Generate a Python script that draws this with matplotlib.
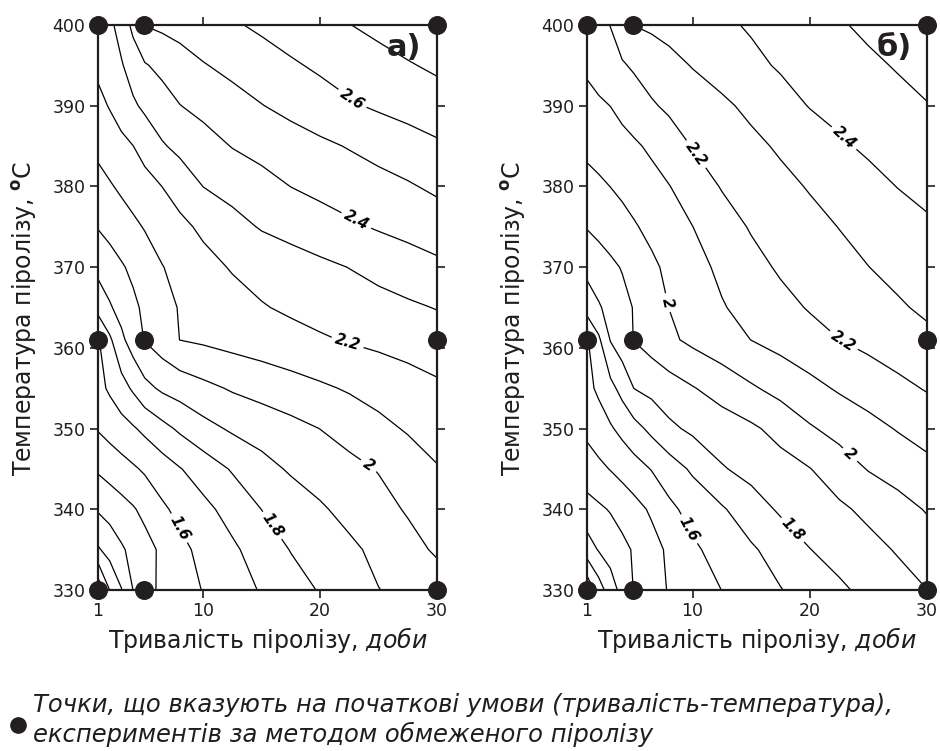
import numpy as np
import matplotlib
matplotlib.use('Agg')
import matplotlib.pyplot as plt
from matplotlib.lines import Line2D

plt.rcParams['font.family'] = ['DejaVu Sans']
plt.rcParams['mathtext.fontset'] = 'dejavusans'

# grid of the interpolated surfaces (days x temperature)
duration_days = [1, 2, 3, 4, 5, 6.5, 8, 10, 12.5, 15, 17.5, 20, 22.5, 25, 27.5, 30]
temperature_c = [330, 335, 340, 345, 350, 355, 361, 365, 370, 375, 380, 385, 390, 395, 400]

# panel а) values, one row per temperature (bottom -> top)
surface_a = [
    [1.02, 1.201, 1.295, 1.401, 1.463, 1.521, 1.557, 1.604, 1.656, 1.708, 1.758, 1.807, 1.853, 1.898, 1.925, 1.952],
    [1.288, 1.338, 1.387, 1.427, 1.464, 1.519, 1.573, 1.628, 1.684, 1.744, 1.804, 1.843, 1.881, 1.923, 1.968, 2.013],
    [1.41, 1.437, 1.464, 1.491, 1.525, 1.584, 1.626, 1.674, 1.736, 1.801, 1.844, 1.888, 1.929, 1.968, 2.009, 2.053],
    [1.513, 1.538, 1.562, 1.587, 1.613, 1.654, 1.695, 1.746, 1.809, 1.866, 1.912, 1.943, 1.973, 2.005, 2.05, 2.094],
    [1.607, 1.635, 1.663, 1.690, 1.722, 1.771, 1.816, 1.868, 1.914, 1.943, 1.971, 2.001, 2.037, 2.075, 2.109, 2.139],
    [1.67, 1.715, 1.763, 1.814, 1.872, 1.917, 1.942, 1.975, 2.010, 2.035, 2.060, 2.085, 2.110, 2.135, 2.159, 2.184],
    [1.69, 1.783, 1.878, 1.948, 2.005, 2.052, 2.101, 2.115, 2.134, 2.152, 2.171, 2.190, 2.207, 2.222, 2.238, 2.254],
    [1.833, 1.889, 1.936, 1.980, 2.018, 2.068, 2.106, 2.131, 2.162, 2.194, 2.214, 2.232, 2.250, 2.268, 2.285, 2.304],
    [1.928, 1.959, 1.990, 2.020, 2.051, 2.097, 2.128, 2.168, 2.208, 2.232, 2.255, 2.279, 2.302, 2.328, 2.354, 2.380],
    [2.005, 2.030, 2.056, 2.081, 2.106, 2.141, 2.176, 2.219, 2.267, 2.308, 2.334, 2.360, 2.385, 2.409, 2.430, 2.450],
    [2.067, 2.091, 2.116, 2.140, 2.164, 2.201, 2.243, 2.301, 2.334, 2.368, 2.401, 2.424, 2.446, 2.468, 2.490, 2.518],
    [2.123, 2.149, 2.174, 2.199, 2.237, 2.291, 2.324, 2.361, 2.404, 2.430, 2.455, 2.481, 2.506, 2.533, 2.559, 2.586],
    [2.174, 2.206, 2.246, 2.286, 2.318, 2.358, 2.398, 2.427, 2.462, 2.497, 2.528, 2.559, 2.589, 2.613, 2.634, 2.654],
    [2.22, 2.256, 2.292, 2.341, 2.392, 2.426, 2.455, 2.494, 2.527, 2.557, 2.588, 2.615, 2.641, 2.666, 2.692, 2.717],
    [2.25, 2.28, 2.336, 2.426, 2.502, 2.519, 2.537, 2.56, 2.589, 2.617, 2.644, 2.671, 2.698, 2.725, 2.752, 2.778],
]

# panel б) values
surface_b = [
    [1.02, 1.152, 1.253, 1.333, 1.404, 1.458, 1.507, 1.548, 1.601, 1.648, 1.696, 1.740, 1.784, 1.824, 1.862, 1.899],
    [1.251, 1.307, 1.341, 1.375, 1.409, 1.464, 1.517, 1.583, 1.638, 1.687, 1.741, 1.798, 1.834, 1.870, 1.908, 1.953],
    [1.362, 1.384, 1.407, 1.436, 1.466, 1.514, 1.578, 1.633, 1.689, 1.756, 1.813, 1.848, 1.883, 1.922, 1.964, 2.007],
    [1.453, 1.478, 1.504, 1.532, 1.561, 1.604, 1.652, 1.715, 1.792, 1.830, 1.864, 1.897, 1.952, 2.005, 2.039, 2.072],
    [1.523, 1.556, 1.589, 1.627, 1.666, 1.724, 1.780, 1.819, 1.851, 1.884, 1.931, 1.990, 2.031, 2.069, 2.106, 2.140],
    [1.575, 1.617, 1.672, 1.732, 1.801, 1.828, 1.857, 1.894, 1.941, 1.988, 2.031, 2.072, 2.111, 2.143, 2.176, 2.207],
    [1.59, 1.683, 1.805, 1.855, 1.903, 1.942, 1.982, 2.021, 2.060, 2.101, 2.133, 2.166, 2.199, 2.226, 2.253, 2.279],
    [1.738, 1.790, 1.831, 1.868, 1.905, 1.953, 2.001, 2.042, 2.093, 2.133, 2.172, 2.207, 2.234, 2.262, 2.289, 2.316],
    [1.830, 1.855, 1.880, 1.906, 1.936, 1.982, 2.020, 2.066, 2.120, 2.170, 2.212, 2.241, 2.270, 2.299, 2.325, 2.351],
    [1.905, 1.926, 1.948, 1.969, 1.991, 2.024, 2.056, 2.099, 2.157, 2.208, 2.239, 2.271, 2.302, 2.330, 2.359, 2.387],
    [1.967, 1.983, 2.001, 2.019, 2.039, 2.068, 2.097, 2.147, 2.206, 2.240, 2.274, 2.307, 2.339, 2.371, 2.402, 2.423],
    [2.023, 2.039, 2.054, 2.070, 2.086, 2.116, 2.155, 2.204, 2.241, 2.277, 2.313, 2.350, 2.387, 2.415, 2.437, 2.460],
    [2.072, 2.086, 2.101, 2.126, 2.152, 2.190, 2.216, 2.246, 2.282, 2.322, 2.364, 2.404, 2.427, 2.450, 2.473, 2.496],
    [2.115, 2.140, 2.166, 2.191, 2.212, 2.241, 2.269, 2.305, 2.342, 2.378, 2.410, 2.434, 2.458, 2.483, 2.507, 2.533],
    [2.15, 2.176, 2.202, 2.254, 2.301, 2.317, 2.334, 2.356, 2.383, 2.410, 2.437, 2.464, 2.491, 2.518, 2.545, 2.57],
]

contour_levels = [1.0, 1.1, 1.2, 1.3, 1.4, 1.5, 1.6, 1.7, 1.8, 1.9, 2.0, 2.1, 2.2, 2.3, 2.4, 2.5, 2.6, 2.7, 2.8]
labeled_levels_a = [1.6, 1.8, 2.0, 2.2, 2.4, 2.6]
labeled_levels_b = [1.6, 1.8, 2.0, 2.2, 2.4]
label_spots_a = [(7.6, 337.4), (15.7, 337.8), (23.2, 343.4), (22.3, 360.4), (22.8, 375.0), (22.5, 390.3)]
label_spots_b = [(9.5, 337.4), (18.5, 337.4), (23.2, 346.4), (7.9, 365.6), (22.8, 360.7), (10.4, 384.1), (22.8, 385.8)]

# experiment start conditions (duration, temperature)
exp_days = [1, 1, 1, 4.9, 4.9, 4.9, 30, 30, 30]
exp_temp = [330, 361, 400, 330, 361, 400, 330, 361, 400]

x_ticks = [1, 10, 20, 30]
y_ticks = [330, 340, 350, 360, 370, 380, 390, 400]

panel_titles = ['а)', 'б)']
x_label = r'Тривалість піролізу, $\mathit{доби}$'
y_label = r'Температура піролізу, $^{\mathbf{o}}$C'
note_lines = ['Точки, що вказують на початкові умови (тривалість-температура),',
              'експериментів за методом обмеженого піролізу']

fig = plt.figure(figsize=(9.4, 7.51), dpi=100)
ax_a = fig.add_axes([98 / 940, 161 / 751, 339 / 940, 565 / 751])
ax_b = fig.add_axes([587 / 940, 161 / 751, 340 / 940, 565 / 751])

X, Y = np.meshgrid(duration_days, temperature_c)
dot_color = '#231f20'
ink = '#1e1e1e'

for ax, surf, lab_levels, spots, title in [
        (ax_a, surface_a, labeled_levels_a, label_spots_a, panel_titles[0]),
        (ax_b, surface_b, labeled_levels_b, label_spots_b, panel_titles[1])]:
    Z = np.array(surf)
    plain_levels = [lv for lv in contour_levels if lv not in lab_levels]
    ax.contour(X, Y, Z, levels=plain_levels, colors='k', linewidths=0.9)
    cs = ax.contour(X, Y, Z, levels=lab_levels, colors='k', linewidths=0.9)
    texts = ax.clabel(cs, manual=spots, fmt='%g',
                      fontsize=10.5, inline=True, inline_spacing=5)
    for t in texts:
        t.set_fontweight('bold')
        t.set_fontstyle('italic')
    ax.scatter(exp_days, exp_temp, s=160, color=dot_color, zorder=5, clip_on=False)
    ax.set_xlim(1, 30)
    ax.set_ylim(330, 400)
    ax.set_xticks(x_ticks)
    ax.set_yticks(y_ticks)
    ax.tick_params(direction='out', length=6, width=1.2, top=True, right=True,
                   labelsize=12.5, colors=ink, labelcolor=ink)
    ax.tick_params(axis='x', pad=3)
    ax.tick_params(axis='y', pad=3)
    for sp in ax.spines.values():
        sp.set_linewidth(1.6)
        sp.set_color(ink)
    ax.set_xlabel(x_label, fontsize=17, color=ink)
    ax.set_ylabel(y_label, fontsize=17, color=ink)
    ax.xaxis.set_label_coords(0.5, -0.062)
    ax.yaxis.set_label_coords(-0.175, 0.48)
    ax.text(0.955, 0.985, title, transform=ax.transAxes, ha='right', va='top',
            fontsize=22, fontweight='bold', color=dot_color)

fig.add_artist(Line2D([18 / 940], [1 - 725 / 751], marker='o', markersize=11,
                      color=dot_color, transform=fig.transFigure))
fig.text(33 / 940, 1 - 705 / 751, note_lines[0], fontsize=17.5, style='italic',
         va='center', ha='left', color=ink)
fig.text(33 / 940, 1 - 734 / 751, note_lines[1], fontsize=17.5, style='italic',
         va='center', ha='left', color=ink)

fig.savefig('out.png', dpi=100, facecolor='white')
